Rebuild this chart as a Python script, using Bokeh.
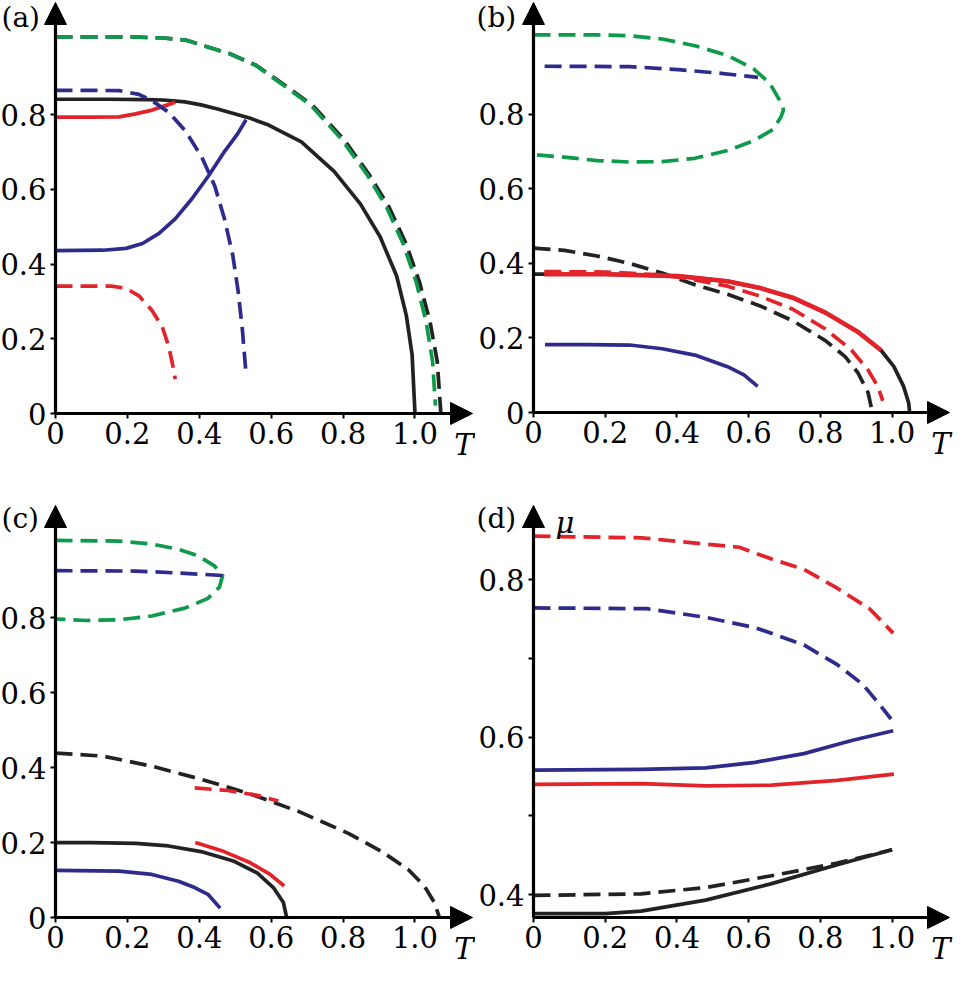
from bokeh.plotting import figure
from bokeh.layouts import column, row
from bokeh.models import Range1d, LinearAxis, FixedTicker, Arrow, NormalHead, Label
from bokeh.embed import file_html
from bokeh.resources import INLINE

# ---------------- data ----------------
# panel (a)
a_green_T = [0, 0.2, 0.3, 0.364, 0.406, 0.482, 0.556, 0.638, 0.711, 0.794, 0.867, 0.921, 0.967, 1.004, 1.031, 1.049, 1.057]
a_green_y = [1.008, 1.008, 1.005, 0.999, 0.986, 0.964, 0.932, 0.876, 0.824, 0.736, 0.639, 0.552, 0.455, 0.35, 0.245, 0.139, 0.021]
a_blackd_T = [0, 0.2, 0.3, 0.364, 0.406, 0.482, 0.558, 0.642, 0.716, 0.8, 0.873, 0.928, 0.975, 1.013, 1.042, 1.062, 1.072]
a_blackd_y = [1.008, 1.008, 1.005, 0.999, 0.986, 0.964, 0.932, 0.876, 0.824, 0.736, 0.639, 0.552, 0.455, 0.35, 0.245, 0.139, 0.0]
a_black_T = [0, 0.15, 0.255, 0.3, 0.36, 0.405, 0.451, 0.542, 0.593, 0.684, 0.775, 0.848, 0.903, 0.949, 0.976, 0.992, 1.0]
a_black_y = [0.841, 0.841, 0.84, 0.839, 0.834, 0.826, 0.815, 0.79, 0.772, 0.727, 0.648, 0.561, 0.473, 0.368, 0.262, 0.157, 0.0]
a_red_T = [0, 0.1, 0.177, 0.223, 0.269, 0.306, 0.333]
a_red_y = [0.793, 0.793, 0.794, 0.802, 0.812, 0.824, 0.833]
a_blued_T = [0, 0.1, 0.177, 0.232, 0.269, 0.315, 0.36, 0.406, 0.443, 0.47, 0.493, 0.508, 0.52, 0.529]
a_blued_y = [0.865, 0.865, 0.864, 0.854, 0.837, 0.806, 0.758, 0.688, 0.609, 0.521, 0.424, 0.328, 0.223, 0.118]
a_blue_T = [0, 0.132, 0.196, 0.242, 0.288, 0.333, 0.379, 0.425, 0.47, 0.507, 0.53]
a_blue_y = [0.436, 0.437, 0.442, 0.455, 0.482, 0.521, 0.574, 0.635, 0.701, 0.749, 0.786]
a_redd_T = [0, 0.155, 0.196, 0.232, 0.269, 0.297, 0.315, 0.326, 0.333]
a_redd_y = [0.341, 0.341, 0.335, 0.315, 0.275, 0.232, 0.179, 0.13, 0.092]

# panel (b)
b_green_T = [0, 0.086, 0.177, 0.268, 0.359, 0.45, 0.541, 0.614, 0.659, 0.691, 0.697, 0.691, 0.669, 0.614, 0.541, 0.45, 0.359, 0.268, 0.177, 0.086, 0]
b_green_y = [1.013, 1.013, 1.013, 1.011, 1.002, 0.984, 0.958, 0.922, 0.883, 0.83, 0.812, 0.795, 0.76, 0.729, 0.703, 0.682, 0.673, 0.672, 0.676, 0.685, 0.692]
b_blued_T = [0.031, 0.268, 0.404, 0.523, 0.626]
b_blued_y = [0.929, 0.928, 0.92, 0.91, 0.899]
b_blackd_T = [0, 0.086, 0.177, 0.268, 0.359, 0.45, 0.541, 0.632, 0.723, 0.814, 0.869, 0.905, 0.933, 0.945]
b_blackd_y = [0.441, 0.435, 0.42, 0.4, 0.374, 0.343, 0.317, 0.286, 0.246, 0.193, 0.15, 0.106, 0.053, 0.0]
b_black_T = [0, 0.2, 0.404, 0.541, 0.632, 0.723, 0.814, 0.905, 0.969, 1.005, 1.032, 1.046, 1.049]
b_black_y = [0.371, 0.371, 0.366, 0.352, 0.334, 0.308, 0.268, 0.216, 0.167, 0.123, 0.07, 0.026, 0.0]
b_red_T = [0.03, 0.2, 0.404, 0.541, 0.632, 0.723, 0.814, 0.905, 0.969]
b_red_y = [0.371, 0.371, 0.366, 0.352, 0.334, 0.308, 0.268, 0.216, 0.167]
b_redd_T = [0.03, 0.2, 0.359, 0.45, 0.541, 0.632, 0.723, 0.814, 0.887, 0.933, 0.96, 0.974]
b_redd_y = [0.378, 0.377, 0.369, 0.356, 0.339, 0.312, 0.277, 0.224, 0.167, 0.114, 0.07, 0.031]
b_blue_T = [0.032, 0.15, 0.268, 0.359, 0.45, 0.541, 0.587, 0.625]
b_blue_y = [0.182, 0.182, 0.181, 0.171, 0.154, 0.123, 0.101, 0.07]

# panel (c)
c_green_T = [0, 0.177, 0.268, 0.342, 0.396, 0.442, 0.465, 0.456, 0.424, 0.36, 0.268, 0.177, 0.086, 0]
c_green_y = [1.007, 1.005, 0.997, 0.983, 0.966, 0.939, 0.913, 0.882, 0.852, 0.826, 0.805, 0.795, 0.793, 0.797]
c_blued_T = [0, 0.223, 0.36, 0.465]
c_blued_y = [0.926, 0.925, 0.919, 0.913]
c_blackd_T = [0, 0.132, 0.268, 0.405, 0.542, 0.679, 0.816, 0.908, 0.981, 1.026, 1.054, 1.068]
c_blackd_y = [0.439, 0.431, 0.404, 0.369, 0.33, 0.282, 0.224, 0.176, 0.128, 0.084, 0.04, 0.0]
c_redd_T = [0.387, 0.479, 0.561, 0.62]
c_redd_y = [0.346, 0.339, 0.326, 0.311]
c_black_T = [0, 0.1, 0.223, 0.314, 0.405, 0.497, 0.561, 0.606, 0.634, 0.643]
c_black_y = [0.2, 0.2, 0.198, 0.191, 0.176, 0.15, 0.119, 0.08, 0.04, 0.0]
c_red_T = [0.389, 0.469, 0.542, 0.597, 0.636]
c_red_y = [0.2, 0.176, 0.146, 0.115, 0.084]
c_blue_T = [0, 0.177, 0.268, 0.342, 0.387, 0.424, 0.458]
c_blue_y = [0.126, 0.124, 0.115, 0.097, 0.08, 0.062, 0.025]

# panel (d)
d_redd_T = [0, 0.3, 0.48, 0.574, 0.664, 0.754, 0.847, 0.937, 1.003]
d_redd_mu = [0.855, 0.853, 0.845, 0.841, 0.826, 0.813, 0.789, 0.763, 0.732]
d_blued_T = [0, 0.316, 0.48, 0.618, 0.754, 0.847, 0.918, 0.964, 0.997]
d_blued_mu = [0.764, 0.763, 0.752, 0.739, 0.717, 0.692, 0.667, 0.642, 0.623]
d_blue_T = [0, 0.3, 0.48, 0.618, 0.754, 0.89, 1.003]
d_blue_mu = [0.558, 0.559, 0.561, 0.568, 0.579, 0.596, 0.608]
d_red_T = [0, 0.3, 0.48, 0.664, 0.847, 1.005]
d_red_mu = [0.54, 0.541, 0.538, 0.539, 0.545, 0.553]
d_blackd_T = [0, 0.3, 0.48, 0.664, 0.847, 1.0]
d_blackd_mu = [0.399, 0.401, 0.409, 0.424, 0.44, 0.457]
d_black_T = [0, 0.2, 0.3, 0.48, 0.664, 0.847, 1.0]
d_black_mu = [0.376, 0.376, 0.379, 0.393, 0.414, 0.438, 0.457]

x_ticks = [0, 0.2, 0.4, 0.6, 0.8, 1.0]
x_tick_labels = ["0", "0.2", "0.4", "0.6", "0.8", "1.0"]
y_ticks = [0, 0.2, 0.4, 0.6, 0.8]
y_tick_labels = ["0", "0.2", "0.4", "0.6", "0.8"]
d_y_ticks = [0.4, 0.5, 0.6, 0.7, 0.8]
d_y_tick_labels = ["0.4", "", "0.6", "", "0.8"]

# axis extents (data units)
T_TIP = 1.16
Y_TIP = 1.1
D_MU_MIN = 0.371
D_MU_TIP = 0.894

GREEN = "#0f9a4b"
BLUE = "#2f2b8c"
RED = "#e3232a"
BLACK = "#222222"
FONT = "DejaVu Serif"
DASH = "17 8"
LW = 3.7


def make_fig(w, h, origin, tip, x0, xt, y0, yt, yticks, ylabels, tag, mu=False):
    ox, oy = origin
    tx, ty = tip
    sx = (tx - ox) / (xt - x0)
    sy = (oy - ty) / (yt - y0)
    xr = Range1d(x0 - ox / sx, x0 + (w - ox) / sx)
    yr = Range1d(y0 - (h - oy) / sy, y0 + oy / sy)
    p = figure(width=w, height=h, x_range=xr, y_range=yr, title=None,
               output_backend="svg", toolbar_location=None,
               x_axis_type=None, y_axis_type=None,
               min_border=0, min_border_left=0, min_border_right=0,
               min_border_top=0, min_border_bottom=0)
    p.outline_line_color = None
    p.background_fill_color = "white"
    p.border_fill_color = "white"
    xa = LinearAxis(ticker=FixedTicker(ticks=x_ticks), fixed_location=y0,
                    bounds=(x0, xt - 6 / sx),
                    major_label_overrides={t: l for t, l in zip(x_ticks, x_tick_labels)})
    ya = LinearAxis(ticker=FixedTicker(ticks=yticks), fixed_location=x0,
                    bounds=(y0, yt - 6 / sy),
                    major_label_overrides={t: l for t, l in zip(yticks, ylabels)})
    for ax in (xa, ya):
        ax.axis_line_width = 3.2
        ax.axis_line_color = "black"
        ax.major_tick_line_width = 2
        ax.major_tick_line_color = "black"
        ax.major_tick_out = 5
        ax.major_tick_in = 0
        ax.minor_tick_line_color = None
        ax.major_label_text_font = FONT
        ax.major_label_text_font_size = "29px"
        ax.major_label_text_color = "black"
    xa.major_label_standoff = 3
    ya.major_label_standoff = 4
    p.add_layout(xa, "below")
    p.add_layout(ya, "left")
    # arrow heads at the ends of both axes
    p.add_layout(Arrow(end=NormalHead(size=22, fill_color="black", line_color="black"),
                       x_start=xt - 10 / sx, y_start=y0, x_end=xt, y_end=y0,
                       line_width=0.1, line_color="black"))
    p.add_layout(Arrow(end=NormalHead(size=22, fill_color="black", line_color="black"),
                       x_start=x0, y_start=yt - 10 / sy, x_end=x0, y_end=yt,
                       line_width=0.1, line_color="black"))
    p.add_layout(Label(x=xt, y=y0, text="T", text_font=FONT, text_font_style="italic",
                       text_font_size="29px", text_align="right", text_baseline="top",
                       y_offset=-14, x_offset=1, text_color="black"))
    p.add_layout(Label(x=x0, y=yt, text=tag, text_font=FONT, text_font_size="28px",
                       text_align="left", text_baseline="top", x_offset=-(ox - 1),
                       y_offset=min(4, ty), text_color="black"))
    if mu:
        p.add_layout(Label(x=x0, y=yt, text="μ", text_font=FONT, text_font_style="italic",
                           text_font_size="29px", text_align="left", text_baseline="alphabetic",
                           x_offset=22, y_offset=-17, text_color="black"))
    return p


def ln(p, x, y, color, dashed=False, width=LW):
    if dashed:
        p.line(x, y, line_color=color, line_width=width, line_dash=DASH, line_join="round")
    else:
        p.line(x, y, line_color=color, line_width=width, line_join="round")


pa = make_fig(475, 482, (55, 413), (472, 2), 0, T_TIP, 0, Y_TIP, y_ticks, y_tick_labels, "(a)")
ln(pa, a_blackd_T, a_blackd_y, BLACK, True)
ln(pa, a_green_T, a_green_y, GREEN, True)
ln(pa, a_black_T, a_black_y, BLACK)
ln(pa, a_red_T, a_red_y, RED)
ln(pa, a_redd_T, a_redd_y, RED, True)
ln(pa, a_blue_T, a_blue_y, BLUE)
ln(pa, a_blued_T, a_blued_y, BLUE, True)

pb = make_fig(478, 482, (58, 412), (474, 2), 0, T_TIP, 0, Y_TIP, y_ticks, y_tick_labels, "(b)")
ln(pb, b_green_T, b_green_y, GREEN, True)
ln(pb, b_blued_T, b_blued_y, BLUE, True)
ln(pb, b_black_T, b_black_y, BLACK)
ln(pb, b_blackd_T, b_blackd_y, BLACK, True)
ln(pb, b_red_T, b_red_y, RED, width=4.6)
ln(pb, b_redd_T, b_redd_y, RED, True)
ln(pb, b_blue_T, b_blue_y, BLUE)

pc = make_fig(475, 484, (55, 435), (472, 23), 0, T_TIP, 0, Y_TIP, y_ticks, y_tick_labels, "(c)")
ln(pc, c_green_T, c_green_y, GREEN, True)
ln(pc, c_blued_T, c_blued_y, BLUE, True)
ln(pc, c_blackd_T, c_blackd_y, BLACK, True)
ln(pc, c_redd_T, c_redd_y, RED, True)
ln(pc, c_black_T, c_black_y, BLACK)
ln(pc, c_red_T, c_red_y, RED)
ln(pc, c_blue_T, c_blue_y, BLUE)

pd_ = make_fig(478, 484, (58, 435), (474, 23), 0, T_TIP, D_MU_MIN, D_MU_TIP,
               d_y_ticks, d_y_tick_labels, "(d)", mu=True)
ln(pd_, d_redd_T, d_redd_mu, RED, True)
ln(pd_, d_blued_T, d_blued_mu, BLUE, True)
ln(pd_, d_blue_T, d_blue_mu, BLUE)
ln(pd_, d_red_T, d_red_mu, RED)
ln(pd_, d_blackd_T, d_blackd_mu, BLACK, True)
ln(pd_, d_black_T, d_black_mu, BLACK)

layout = column(row(pa, pb), row(pc, pd_))
open("out.html", "w").write(file_html(layout, INLINE))
